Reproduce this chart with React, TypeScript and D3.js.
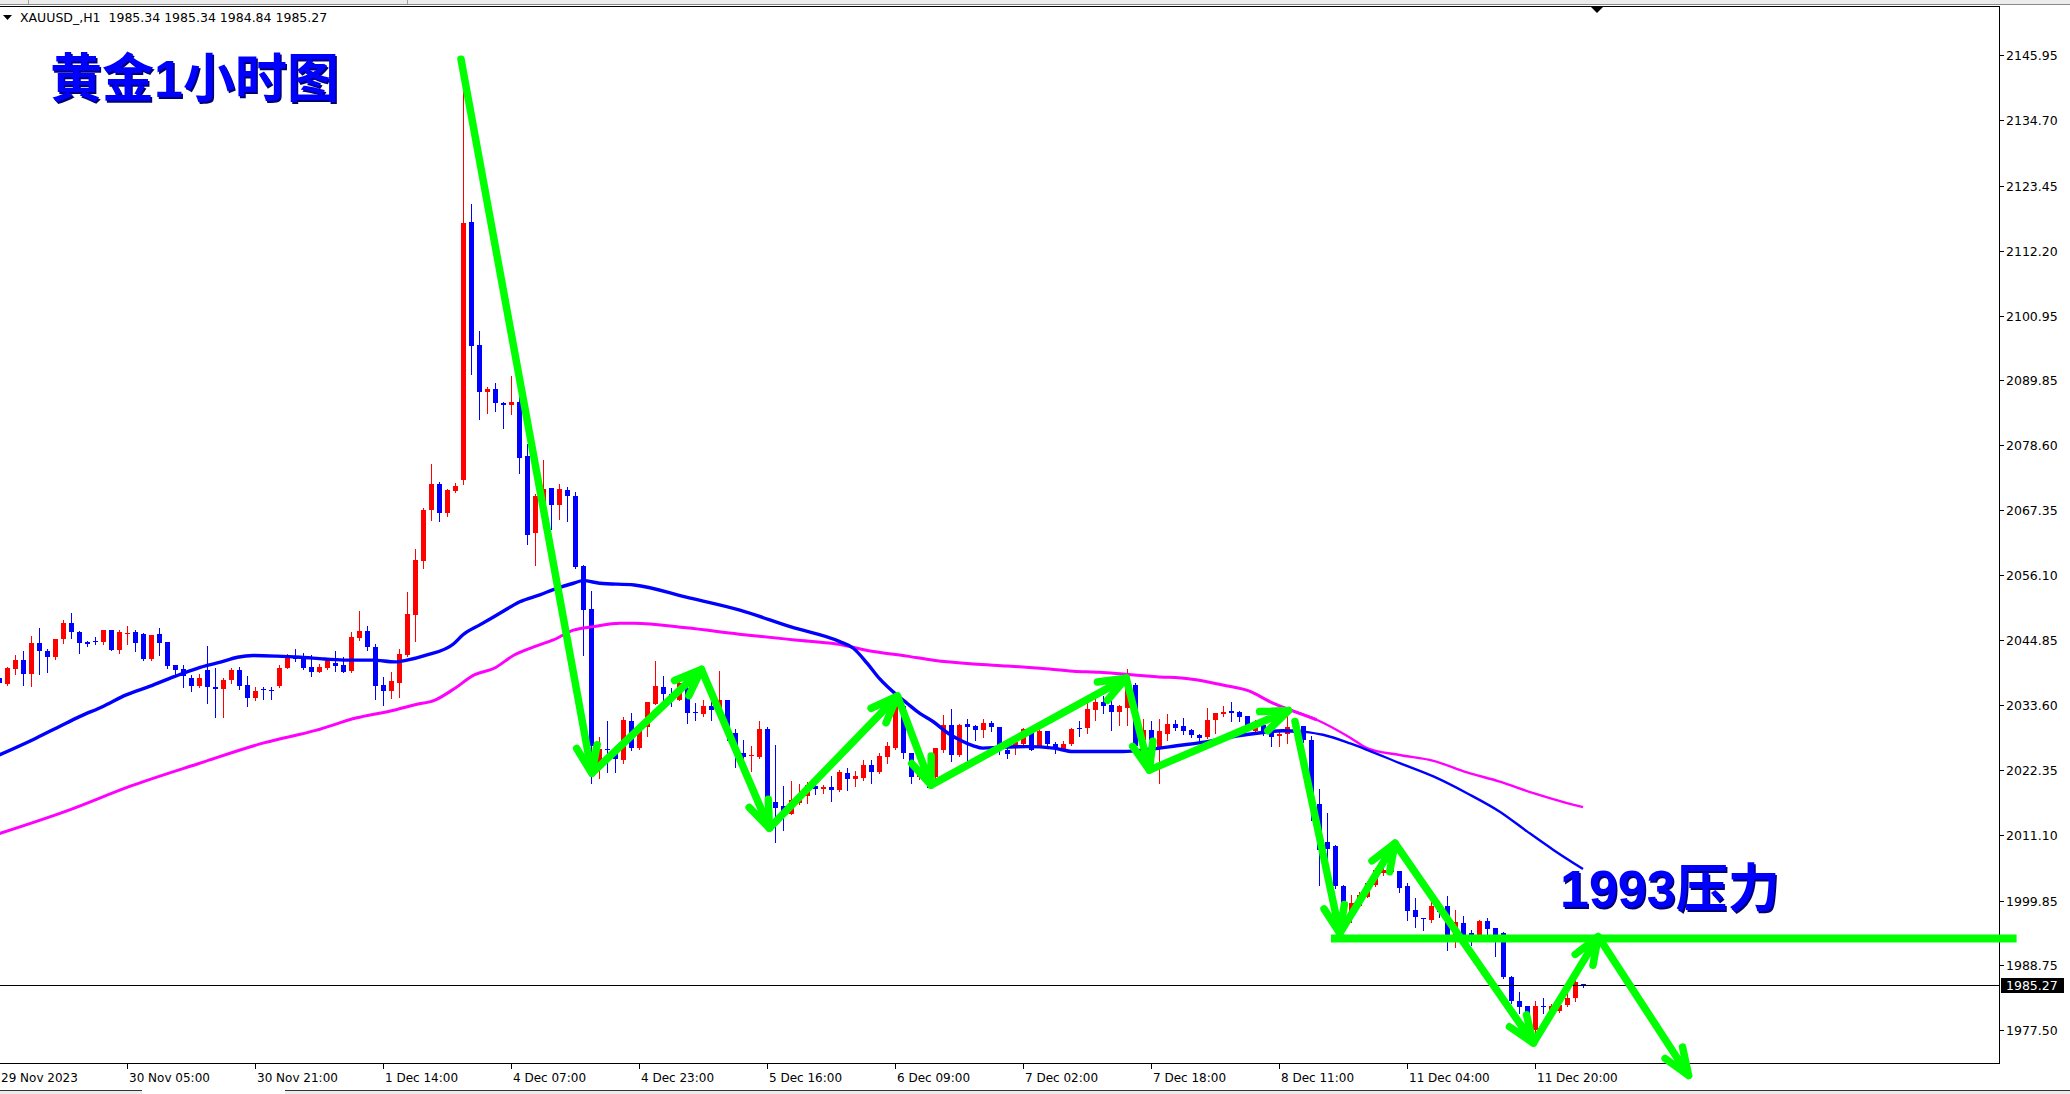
import React from 'react';
import * as d3 from 'd3';

const W = 2070;
const H = 1094;

// ---- Candle data (hourly, XAUUSD) : open, high, low, close ----
const opens = [
  2038.4, 2037.3, 2039.9, 2041.4, 2039.0, 2044.4, 2043.0, 2042.0, 2045.0, 2047.9,
  2046.2, 2044.6, 2044.7, 2044.6, 2046.6, 2043.2, 2046.0, 2046.2, 2046.0, 2041.6,
  2046.0, 2044.6, 2040.6, 2039.8, 2038.4, 2037.0, 2039.7, 2036.8, 2036.4, 2037.9,
  2039.7, 2037.1, 2034.9, 2036.4, 2036.3, 2037.0, 2040.1, 2041.7, 2042.0, 2040.2,
  2039.4, 2040.1, 2040.9, 2040.5, 2039.5, 2045.3, 2046.5, 2043.7, 2037.1, 2036.0,
  2037.5, 2042.3, 2049.2, 2058.6, 2067.3, 2071.9, 2066.9, 2070.7, 2072.6, 2117.1,
  2095.9, 2087.7, 2088.3, 2085.9, 2085.5, 2086.1, 2076.7, 2063.3, 2068.5, 2071.2,
  2068.3, 2070.8, 2069.8, 2057.7, 2050.3, 2023.7, 2026.1, 2025.5, 2024.2, 2030.9,
  2026.3, 2029.8, 2033.8, 2036.7, 2035.6, 2034.5, 2036.6, 2032.5, 2032.1, 2033.5,
  2032.7, 2034.5, 2028.8, 2025.3, 2024.8, 2024.6, 2029.5, 2016.8, 2016.2, 2014.8,
  2016.7, 2017.9, 2019.7, 2019.1, 2019.4, 2018.9, 2021.9, 2020.8, 2021.1, 2023.3,
  2022.0, 2024.7, 2026.2, 2033.5, 2025.3, 2021.2, 2022.5, 2021.2, 2025.9, 2030.2,
  2025.0, 2030.3, 2030.0, 2029.3, 2030.5, 2029.8, 2025.9, 2026.6, 2026.9, 2028.9,
  2026.6, 2029.1, 2026.9, 2025.9, 2026.9, 2029.6, 2029.6, 2032.8, 2034.2, 2033.7,
  2032.5, 2033.2, 2037.1, 2027.6, 2029.3, 2026.3, 2028.7, 2030.4, 2030.0, 2029.3,
  2028.4, 2028.2, 2031.0, 2032.1, 2032.6, 2032.5, 2031.7, 2029.1, 2030.2, 2029.6,
  2028.3, 2028.7, 2029.9, 2030.0, 2027.6, 2016.5, 2010.0, 2009.2, 2002.3, 1997.6,
  1998.9, 2000.5, 2002.5, 2004.6, 2004.7, 2004.9, 2002.3, 1998.2, 1996.9, 1996.5,
  1998.9, 1998.9, 1993.9, 1996.0, 1994.2, 1993.9, 1996.3, 1995.1, 1994.3, 1986.7,
  1982.4, 1981.6, 1977.5, 1981.6, 1980.6, 1980.7, 1981.8, 1983.0, 1985.34,
];
const highs = [
  2038.6, 2040.3, 2042.3, 2043.0, 2045.6, 2046.9, 2043.3, 2045.0, 2048.4, 2049.6,
  2046.5, 2044.8, 2045.4, 2046.7, 2046.7, 2046.6, 2047.3, 2046.6, 2046.1, 2045.8,
  2047.0, 2044.6, 2040.6, 2040.6, 2038.9, 2039.0, 2043.8, 2040.0, 2038.3, 2040.0,
  2040.2, 2038.6, 2036.7, 2036.7, 2036.7, 2040.6, 2042.4, 2043.3, 2042.7, 2042.3,
  2040.7, 2041.6, 2043.0, 2042.0, 2046.2, 2049.9, 2047.3, 2044.2, 2038.5, 2039.3,
  2043.3, 2053.1, 2060.6, 2067.7, 2075.3, 2072.2, 2071.0, 2072.0, 2145.7, 2120.3,
  2098.3, 2088.7, 2089.3, 2086.1, 2090.5, 2088.0, 2078.8, 2070.1, 2076.0, 2071.2,
  2071.9, 2071.3, 2070.5, 2057.9, 2053.3, 2028.1, 2030.8, 2026.0, 2031.5, 2032.3,
  2030.0, 2034.2, 2041.3, 2038.6, 2036.6, 2037.7, 2036.8, 2034.0, 2034.5, 2035.4,
  2039.5, 2034.5, 2029.5, 2027.6, 2026.6, 2030.9, 2029.9, 2026.8, 2019.6, 2020.5,
  2020.0, 2020.4, 2020.4, 2019.8, 2021.4, 2022.4, 2022.8, 2022.3, 2024.2, 2024.2,
  2025.3, 2027.3, 2034.8, 2033.8, 2025.4, 2023.0, 2023.2, 2026.2, 2031.9, 2032.9,
  2030.3, 2031.2, 2030.2, 2031.2, 2030.8, 2029.9, 2027.6, 2027.6, 2029.6, 2029.1,
  2029.8, 2029.1, 2027.2, 2027.4, 2029.6, 2030.9, 2034.1, 2035.7, 2035.2, 2034.5,
  2033.7, 2039.8, 2037.4, 2031.2, 2030.9, 2031.2, 2032.1, 2031.1, 2031.4, 2029.5,
  2028.7, 2033.2, 2032.3, 2033.4, 2034.1, 2032.6, 2031.7, 2031.1, 2031.0, 2029.7,
  2029.3, 2031.7, 2030.5, 2030.1, 2028.3, 2019.2, 2014.9, 2009.5, 2002.5, 2000.8,
  2001.4, 2003.1, 2005.4, 2005.4, 2006.0, 2004.9, 2002.9, 2000.2, 1996.9, 2000.0,
  1999.8, 2000.6, 1998.2, 1997.1, 1994.8, 1996.4, 1996.8, 1995.1, 1994.4, 1986.8,
  1984.1, 1981.7, 1982.4, 1983.0, 1982.0, 1982.4, 1985.0, 1986.1, 1985.34,
];
const lows = [
  2037.3, 2037.1, 2039.0, 2037.1, 2037.0, 2039.0, 2039.4, 2041.6, 2044.3, 2045.3,
  2042.7, 2043.9, 2044.2, 2044.2, 2043.1, 2042.6, 2044.2, 2043.0, 2041.4, 2041.4,
  2042.3, 2040.0, 2038.9, 2036.7, 2036.0, 2036.8, 2034.0, 2031.5, 2031.5, 2037.4,
  2036.5, 2033.5, 2034.5, 2034.7, 2034.7, 2036.8, 2040.0, 2041.2, 2039.8, 2038.6,
  2039.4, 2039.8, 2039.6, 2039.3, 2039.4, 2044.9, 2043.2, 2034.7, 2033.7, 2034.9,
  2035.1, 2042.1, 2044.7, 2057.3, 2065.6, 2065.5, 2066.3, 2070.4, 2071.8, 2090.8,
  2083.1, 2084.2, 2084.4, 2081.6, 2083.9, 2073.7, 2061.5, 2057.8, 2067.5, 2064.0,
  2065.8, 2065.5, 2057.3, 2042.3, 2020.1, 2021.0, 2022.1, 2022.1, 2023.7, 2025.9,
  2026.0, 2028.3, 2033.8, 2034.0, 2033.4, 2034.5, 2030.5, 2031.0, 2031.7, 2031.1,
  2032.5, 2027.6, 2023.0, 2023.0, 2022.3, 2024.5, 2014.4, 2009.9, 2012.1, 2014.8,
  2016.6, 2016.7, 2018.3, 2018.5, 2017.1, 2018.7, 2019.0, 2019.6, 2020.7, 2020.2,
  2021.9, 2023.7, 2026.0, 2024.5, 2020.1, 2020.8, 2019.5, 2021.0, 2025.6, 2024.0,
  2024.8, 2023.7, 2027.6, 2028.1, 2029.1, 2025.2, 2024.5, 2025.2, 2026.5, 2025.8,
  2026.4, 2026.2, 2025.3, 2025.8, 2026.8, 2028.3, 2028.8, 2031.1, 2032.3, 2029.3,
  2030.2, 2030.2, 2026.4, 2026.8, 2027.0, 2020.1, 2027.6, 2029.3, 2028.7, 2028.2,
  2027.2, 2027.9, 2028.8, 2031.7, 2030.8, 2030.8, 2029.3, 2029.0, 2028.5, 2026.5,
  2026.6, 2027.0, 2028.5, 2027.3, 2013.8, 2002.5, 2002.5, 2002.0, 1995.3, 1996.2,
  1998.8, 2000.5, 2002.3, 2004.3, 2004.6, 2001.4, 1996.5, 1995.3, 1994.8, 1996.2,
  1997.0, 1991.3, 1991.9, 1993.0, 1992.2, 1993.5, 1993.9, 1990.3, 1986.4, 1982.1,
  1980.4, 1977.5, 1976.9, 1980.4, 1980.3, 1980.6, 1981.6, 1982.4, 1984.84,
];
const closes = [
  2037.4, 2040.1, 2041.4, 2039.0, 2044.4, 2042.9, 2042.0, 2045.0, 2047.9, 2046.2,
  2044.4, 2044.2, 2044.6, 2046.7, 2043.2, 2046.2, 2046.1, 2044.4, 2041.6, 2045.8,
  2044.3, 2040.4, 2039.7, 2038.6, 2037.0, 2038.4, 2036.7, 2036.5, 2038.0, 2039.7,
  2037.0, 2034.8, 2036.1, 2036.2, 2036.1, 2040.1, 2041.8, 2041.6, 2040.1, 2039.4,
  2040.2, 2041.2, 2040.4, 2039.4, 2045.4, 2046.5, 2043.6, 2037.0, 2036.0, 2037.8,
  2042.5, 2049.4, 2058.7, 2067.4, 2071.9, 2066.9, 2070.8, 2071.5, 2117.0, 2095.7,
  2087.7, 2088.3, 2085.8, 2085.5, 2086.1, 2076.4, 2063.0, 2069.8, 2071.0, 2068.3,
  2071.0, 2069.7, 2057.5, 2050.1, 2026.6, 2026.1, 2025.8, 2024.3, 2031.0, 2026.2,
  2029.3, 2034.1, 2037.0, 2035.6, 2035.1, 2037.4, 2032.2, 2032.2, 2033.5, 2032.7,
  2034.5, 2028.9, 2025.3, 2024.6, 2025.0, 2029.5, 2016.1, 2015.9, 2015.4, 2017.2,
  2018.1, 2019.8, 2019.1, 2019.4, 2018.9, 2022.0, 2020.8, 2021.3, 2023.3, 2022.0,
  2024.9, 2026.5, 2033.5, 2025.3, 2021.2, 2022.7, 2020.0, 2026.2, 2030.2, 2025.0,
  2030.2, 2029.9, 2029.3, 2030.5, 2029.8, 2025.9, 2025.2, 2027.3, 2029.5, 2025.9,
  2029.1, 2026.9, 2026.0, 2026.9, 2029.5, 2029.5, 2032.9, 2034.2, 2033.5, 2032.5,
  2033.4, 2037.3, 2026.6, 2029.3, 2027.6, 2029.1, 2030.4, 2029.7, 2029.2, 2028.5,
  2027.9, 2031.1, 2032.3, 2032.5, 2032.3, 2031.5, 2029.9, 2030.5, 2029.0, 2028.2,
  2028.7, 2029.9, 2028.8, 2027.6, 2016.5, 2008.6, 2008.7, 2002.3, 1997.6, 1999.5,
  2000.8, 2002.8, 2005.1, 2005.1, 2005.7, 2002.0, 1998.1, 1997.0, 1996.6, 1998.9,
  1997.8, 1993.9, 1996.2, 1993.9, 1993.2, 1996.3, 1994.9, 1992.8, 1986.7, 1982.4,
  1981.5, 1980.1, 1981.6, 1981.5, 1981.6, 1981.8, 1983.0, 1985.7, 1985.27,
];

// ---- Moving averages: [bar index, price] ----
const maBlue: [number, number][] = [
  [0, 2025.0], [4.3, 2027.7], [7.5, 2029.9], [10, 2031.6], [13, 2033.4], [15.9, 2035.4],
  [18.9, 2036.9], [21.9, 2038.55], [24.8, 2040.0], [27.8, 2041.1], [29.8, 2041.9],
  [31.8, 2042.2], [34.7, 2042.1], [37.7, 2041.9], [40.7, 2041.6], [43.6, 2041.4],
  [46.75, 2041.4], [49.5, 2041.1], [51, 2041.4], [53.5, 2042.3], [56.8, 2044.2],
  [58, 2045.8], [60.1, 2047.5], [62.6, 2049.5], [65.1, 2051.5], [67.6, 2052.7],
  [69.7, 2053.8], [71.8, 2054.7], [73, 2055.15], [75.1, 2054.7], [79.4, 2054.4],
  [85.9, 2052.3], [92.5, 2050.1], [99.1, 2047.1], [105.1, 2044.6], [106.75, 2043.5],
  [108.5, 2040.9], [110.1, 2038.15], [112.2, 2035.4], [113.5, 2033.95], [115.1, 2032.2],
  [116.75, 2030.8], [118.5, 2028.9], [120.1, 2027.6], [121.8, 2026.6], [123, 2026.2],
  [125.1, 2026.35], [128.5, 2026.45], [131.8, 2026.2], [134.3, 2025.6], [137.6, 2025.6],
  [140.5, 2025.6], [143.9, 2026.0], [147.2, 2026.6], [151.4, 2027.4], [154.7, 2028.3],
  [158, 2028.9], [160.5, 2029.2], [163, 2029.05], [165.5, 2028.5], [168.9, 2027.0],
  [171, 2025.9], [175.1, 2023.6], [179.3, 2021.3], [183.5, 2018.4], [187.6, 2015.2],
  [191, 2011.8], [194.3, 2008.6], [198, 2005.3],
];
const maMagenta: [number, number][] = [
  [0, 2011.4], [8.4, 2015.3], [16.6, 2019.7], [24.9, 2023.5], [33.1, 2027.1],
  [39.7, 2029.3], [44.6, 2031.4], [49.5, 2032.8], [52, 2033.7], [54.5, 2034.5],
  [57, 2036.55], [59.4, 2038.85], [61.9, 2040.0], [64.4, 2042.3], [66.85, 2043.7],
  [69.3, 2044.9], [71.8, 2046.6], [74.3, 2047.2], [77.6, 2047.8], [79.4, 2047.8],
  [85.9, 2047.0], [92.5, 2045.9], [99.5, 2044.9], [104.7, 2044.2], [109.3, 2042.9],
  [113.5, 2042.1], [116.8, 2041.4], [121.8, 2040.75], [126, 2040.4], [130.1, 2040.0],
  [134.3, 2039.5], [137.6, 2039.3], [140.5, 2039.0], [144.7, 2038.55], [148.9, 2038.15],
  [153, 2037.1], [156.4, 2036.0], [158.9, 2034.2], [161.4, 2032.8], [164.7, 2031.1],
  [168.9, 2028.0], [171, 2026.2], [175.1, 2025.0], [179.3, 2024.0], [183.5, 2022.0],
  [187.6, 2020.4], [191.8, 2018.4], [196, 2016.7], [198, 2016.0],
];

// ---- Axis labels ----
const priceTicks = [
  2145.95, 2134.7, 2123.45, 2112.2, 2100.95, 2089.85, 2078.6, 2067.35,
  2056.1, 2044.85, 2033.6, 2022.35, 2011.1, 1999.85, 1988.75, 1977.5,
];
const timeLabelBars = [0, 16, 32, 48, 64, 80, 96, 112, 128, 144, 160, 176, 192];
const timeLabels = [
  '29 Nov 2023', '30 Nov 05:00', '30 Nov 21:00', '1 Dec 14:00', '4 Dec 07:00',
  '4 Dec 23:00', '5 Dec 16:00', '6 Dec 09:00', '7 Dec 02:00', '7 Dec 18:00',
  '8 Dec 11:00', '11 Dec 04:00', '11 Dec 20:00',
];

// ---- Hand-drawn green annotations: [bar index, price] start -> tip ----
const arrows: [number, number, number, number][] = [
  [57.75, 2145.3, 74.1, 2021.85],
  [74.3, 2022.1, 87.8, 2039.8],
  [87.8, 2039.8, 96.3, 2012.35],
  [96.3, 2012.35, 112.3, 2035.2],
  [112.3, 2035.2, 116.5, 2019.8],
  [116.5, 2019.8, 140.9, 2038.3],
  [140.9, 2038.3, 143.8, 2022.4],
  [143.8, 2022.4, 161.2, 2032.7],
  [162.0, 2030.8, 167.6, 1994.2],
  [167.6, 1994.2, 174.5, 2009.75],
  [174.5, 2009.75, 191.8, 1975.2],
  [191.8, 1975.2, 199.9, 1993.6],
  [199.9, 1993.6, 211.2, 1969.6],
];
const resistanceLevel = 1993.3;
const resistanceFrom = 166.5;
const resistanceTo = 252.2;

const currentPrice = 1985.27;
const headerText = 'XAUUSD_,H1  1985.34 1985.34 1984.84 1985.27';
const titleText = '黄金1小时图';
const noteText = '1993压力';

const PLOT_LEFT = 0;
const PLOT_RIGHT = 1999;
const PLOT_TOP = 6;
const PLOT_BOTTOM = 1063;

const UP = '#ff0000';
const DOWN = '#0000ff';
const GREEN = '#00ff00';
const AXIS_FONT = "'DejaVu Sans', Verdana, sans-serif";
const BIG_FONT = "'Liberation Sans', 'Noto Sans CJK SC', sans-serif";

export default function App() {
  const x = d3.scaleLinear().domain([0, 250]).range([-1, 1999]);
  const y = d3.scaleLinear().domain([1971.76, 2154.32]).range([1063, 7]);

  const line = d3
    .line<[number, number]>()
    .x((d) => x(d[0]))
    .y((d) => y(d[1]))
    .curve(d3.curveMonotoneX);

  const splitAt = 163;
  const blueA = maBlue.filter((d) => d[0] <= splitAt);
  const blueB = maBlue.filter((d) => d[0] >= splitAt);
  const magA = maMagenta.filter((d) => d[0] <= splitAt + 2);
  const magB = maMagenta.filter((d) => d[0] >= splitAt - 2);

  const candles = opens.map((o, i) => {
    const c = closes[i];
    const h = highs[i];
    const l = lows[i];
    const cx = Math.round(x(i));
    const color = c >= o ? UP : DOWN;
    const top = Math.round(y(Math.max(o, c)));
    const bot = Math.round(y(Math.min(o, c)));
    const bh = Math.max(1, bot - top);
    return (
      <g key={i}>
        <line
          x1={cx + 0.5}
          x2={cx + 0.5}
          y1={Math.round(y(h))}
          y2={Math.round(y(l)) + 1}
          stroke={color}
          strokeWidth={1}
        />
        <rect x={cx - 2} y={top} width={5} height={bh} fill={color} />
      </g>
    );
  });

  const arrowEls = arrows.map((a, k) => {
    const x1 = x(a[0]);
    const y1 = y(a[1]);
    const x2 = x(a[2]);
    const y2 = y(a[3]);
    const ang = Math.atan2(y1 - y2, x1 - x2);
    const len = 29;
    const spread = (21 * Math.PI) / 180;
    const b1x = x2 + len * Math.cos(ang + spread);
    const b1y = y2 + len * Math.sin(ang + spread);
    const b2x = x2 + len * Math.cos(ang - spread);
    const b2y = y2 + len * Math.sin(ang - spread);
    return (
      <g key={k}>
        <path
          d={`M${x1},${y1}L${x2},${y2}M${b1x},${b1y}L${x2},${y2}L${b2x},${b2y}`}
          fill="none"
          stroke={GREEN}
          strokeWidth={7.5}
          strokeLinecap="round"
          strokeLinejoin="round"
        />
      </g>
    );
  });

  const curY = y(currentPrice);

  return (
    <svg
      width={W}
      height={H}
      viewBox={`0 0 ${W} ${H}`}
      style={{ position: 'absolute', left: 0, top: 0, background: '#ffffff' }}
    >
      <defs>
        <clipPath id="plot">
          <rect x={PLOT_LEFT} y={PLOT_TOP} width={PLOT_RIGHT - PLOT_LEFT} height={PLOT_BOTTOM - PLOT_TOP} />
        </clipPath>
      </defs>
      <rect x={0} y={0} width={W} height={H} fill="#ffffff" />

      {/* top window strip */}
      <rect x={0} y={0} width={W} height={4} fill="#ececec" />
      <line x1={28.5} x2={28.5} y1={0} y2={4} stroke="#a0a0a0" />
      <line x1={407.5} x2={407.5} y1={0} y2={4} stroke="#a0a0a0" />
      <line x1={0} x2={W} y1={4.5} y2={4.5} stroke="#8a8a8a" />
      <line x1={0} x2={PLOT_RIGHT + 0.5} y1={PLOT_TOP + 0.5} y2={PLOT_TOP + 0.5} stroke="#000" />

      {/* plot frame */}
      <line x1={PLOT_RIGHT + 0.5} x2={PLOT_RIGHT + 0.5} y1={PLOT_TOP} y2={PLOT_BOTTOM + 1} stroke="#000" />
      <line x1={0} x2={PLOT_RIGHT + 1} y1={PLOT_BOTTOM + 0.5} y2={PLOT_BOTTOM + 0.5} stroke="#000" />

      <g clipPath="url(#plot)">
        {candles}
        <path d={line(magA) || ''} fill="none" stroke="#ff00ff" strokeWidth={3} />
        <path d={line(magB) || ''} fill="none" stroke="#ff00ff" strokeWidth={2.4} />
        <path d={line(blueA) || ''} fill="none" stroke="#0000ff" strokeWidth={3.4} />
        <path d={line(blueB) || ''} fill="none" stroke="#0000ff" strokeWidth={2.4} />
        <line x1={0} x2={PLOT_RIGHT} y1={Math.round(curY) + 0.5} y2={Math.round(curY) + 0.5} stroke="#000" strokeWidth={1} />
      </g>

      {/* chart shift marker */}
      <path d="M1591,7L1603,7L1597,13Z" fill="#000" />

      {/* header */}
      <path d="M3,15L12,15L7.5,20Z" fill="#000" />
      <text x={20} y={22} fontFamily={AXIS_FONT} fontSize={12.5} fill="#000" style={{ whiteSpace: 'pre' }}>
        {headerText}
      </text>

      {/* price axis */}
      {priceTicks.map((p) => {
        const ty = Math.round(y(p)) + 0.5;
        return (
          <g key={p}>
            <line x1={PLOT_RIGHT + 1} x2={PLOT_RIGHT + 5} y1={ty} y2={ty} stroke="#000" />
            <text x={2006} y={ty + 4.5} fontFamily={AXIS_FONT} fontSize={12.5} fill="#000">
              {p.toFixed(2)}
            </text>
          </g>
        );
      })}
      <rect x={2001} y={Math.round(curY) - 7} width={63} height={15} fill="#000" />
      <text x={2006} y={Math.round(curY) + 5} fontFamily={AXIS_FONT} fontSize={12.5} fill="#fff">
        {currentPrice.toFixed(2)}
      </text>

      {/* time axis */}
      {timeLabelBars.map((b, k) => {
        const tx = Math.round(x(b)) + 0.5;
        return (
          <g key={b}>
            {k > 0 && <line x1={tx} x2={tx} y1={PLOT_BOTTOM + 1} y2={PLOT_BOTTOM + 6} stroke="#000" />}
            <text x={tx + 1.5} y={1082} fontFamily={AXIS_FONT} fontSize={12} fill="#000">
              {timeLabels[k]}
            </text>
          </g>
        );
      })}

      {/* bottom window strip */}
      <rect x={0} y={1090} width={W} height={4} fill="#ececec" />
      <line x1={0} x2={142} y1={1090.5} y2={1090.5} stroke="#333" />
      <line x1={285} x2={W} y1={1090.5} y2={1090.5} stroke="#333" />
      <rect x={142} y={1090} width={143} height={4} fill="#ffffff" />

      {/* annotations */}
      <line
        x1={x(resistanceFrom)}
        x2={x(resistanceTo)}
        y1={y(resistanceLevel)}
        y2={y(resistanceLevel)}
        stroke={GREEN}
        strokeWidth={8}
      />
      {arrowEls}

      <text x={51.5} y={98.5} fontFamily={BIG_FONT} fontWeight={700} fontSize={52} fill="#000070">
        {titleText}
      </text>
      <text x={50} y={97} fontFamily={BIG_FONT} fontWeight={700} fontSize={52} fill="#0000ff">
        {titleText}
      </text>
      <text x={1561.5} y={908.5} fontFamily={BIG_FONT} fontWeight={700} fontSize={52} fill="#000070">
        {noteText}
      </text>
      <text x={1560} y={907} fontFamily={BIG_FONT} fontWeight={700} fontSize={52} fill="#0000ff">
        {noteText}
      </text>
    </svg>
  );
}
